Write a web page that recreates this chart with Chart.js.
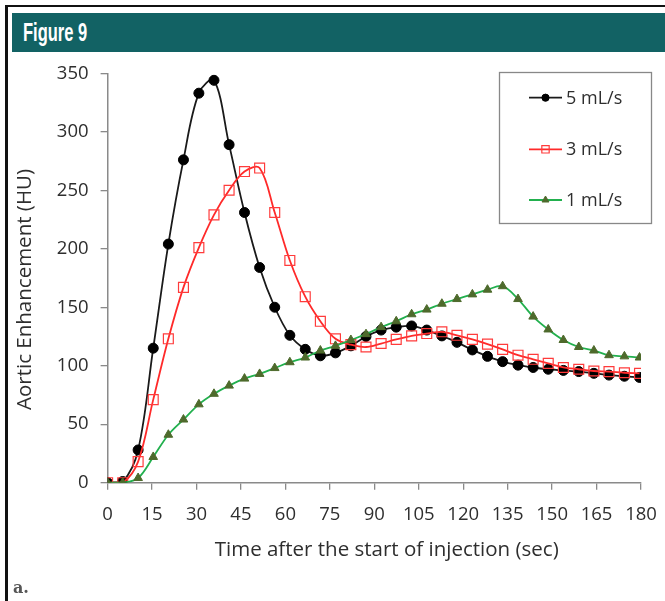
<!DOCTYPE html>
<html><head><meta charset="utf-8">
<script src="https://cdn.jsdelivr.net/npm/chart.js@4"></script>
<style>
html,body{margin:0;padding:0;background:#fff;}
#wrap{position:relative;width:665px;height:601px;overflow:hidden;background:#fff;}
#c{position:absolute;left:0;top:0;}
#topline{position:absolute;left:5px;top:5px;width:660px;height:2px;background:#111;}
#leftline{position:absolute;left:5px;top:5px;width:3px;height:596px;background:#111;}
#header{position:absolute;left:12px;top:13px;width:653px;height:39px;background:#126264;}
#header span{position:absolute;left:11px;top:6px;color:#fff;font:bold 25px "Liberation Sans",Arial,sans-serif;line-height:26px;transform:scaleX(0.66);transform-origin:0 0;white-space:nowrap;}
#lab{position:absolute;left:13px;top:578px;font:bold 16px "DejaVu Serif",serif;color:#555;}
</style></head>
<body>
<div id="wrap">
<canvas id="c" width="665" height="601"></canvas>
<div id="topline"></div><div id="leftline"></div>
<div id="header"><span>Figure 9</span></div>
<div id="lab">a.</div>
</div>
<script>
// time (s) of each sample
const times = [0, 5.1, 10.3, 15.4, 20.5, 25.6, 30.8, 35.9, 41.0, 46.2, 51.3, 56.4, 61.5, 66.7, 71.8, 76.9, 82.1, 87.2, 92.3, 97.4, 102.6, 107.7, 112.8, 117.9, 123.1, 128.2, 133.3, 138.5, 143.6, 148.7, 153.8, 159.0, 164.1, 169.2, 174.4, 179.5];
const rate5 = [0, 1, 28, 115, 204, 276, 333, 344, 289, 231, 184, 150, 126, 114, 108.5, 111, 117, 125, 130.5, 133, 134, 130.5, 125.5, 120, 113.5, 108, 103.5, 100.5, 98.5, 97, 96, 95, 93.5, 92, 91, 90];
const rate3 = [0, 0, 18, 71, 123, 167, 201, 229, 250, 266, 269, 231, 190, 159, 138, 123, 118, 116, 119, 122.5, 125.5, 127.5, 129, 126, 122.5, 118.5, 114, 109, 105.5, 102, 98.5, 97, 95.5, 95, 94, 93.5];
const rate1 = [0, 0, 4, 22, 41, 54, 67, 76, 83, 89, 93, 98, 103, 107, 113, 117, 122, 127, 133, 138, 144, 148, 153, 157, 161, 165, 168, 157, 142, 131, 122, 116, 113, 109, 108, 107];
const seriesLabels = ['5 mL/s', '3 mL/s', '1 mL/s'];
const xTicks = [0, 15, 30, 45, 60, 75, 90, 105, 120, 135, 150, 165, 180];
const yTicks = [0, 50, 100, 150, 200, 250, 300, 350];
const xTitle = 'Time after the start of injection (sec)';
const yTitle = 'Aortic Enhancement (HU)';

const FONT = '"Open Sans", sans-serif';
const TEXT = '#2e2e2e';
const toXY = arr => arr.map((v, i) => ({x: times[i], y: v}));

const styles = [
  {line:'#1a1a1a', point:'circle', fill:'#000', border:'#000', r:5, lr:3.6, bw:1},
  {line:'#ff2a2a', point:'rect', fill:'rgba(255,255,255,0)', border:'#ff3b3b', r:7, lr:5.2, bw:1.2},
  {line:'#22b04e', point:'triangle', fill:'#4e6a2c', border:'#4e6a2c', r:5, lr:4, bw:1}
];
const datasets = [rate5, rate3, rate1].map((d, i) => ({
  label: seriesLabels[i],
  data: toXY(d),
  borderColor: styles[i].line,
  borderWidth: 1.8,
  tension: 0.35,
  pointStyle: styles[i].point,
  pointRadius: styles[i].r,
  pointBackgroundColor: styles[i].fill,
  pointBorderColor: styles[i].border,
  pointBorderWidth: styles[i].bw,
  fill: false
}));
const order = [2, 1, 0];

function drawMarker(ctx, st, x, y, r) {
  ctx.save();
  ctx.fillStyle = st.fill; ctx.strokeStyle = st.border; ctx.lineWidth = st.bw;
  ctx.beginPath();
  if (st.point === 'circle') ctx.arc(x, y, r, 0, Math.PI * 2);
  else if (st.point === 'rect') { const s = r * Math.SQRT1_2; ctx.rect(x - s, y - s, 2 * s, 2 * s); }
  else { ctx.moveTo(x, y - r); ctx.lineTo(x + r * 0.866, y + r * 0.5); ctx.lineTo(x - r * 0.866, y + r * 0.5); ctx.closePath(); }
  ctx.fill(); ctx.stroke();
  ctx.restore();
}

const overlay = {
  id: 'overlay',
  afterDraw(chart) {
    const ctx = chart.ctx;
    ctx.save();
    ctx.fillStyle = TEXT;
    ctx.font = '20.5px ' + FONT;
    ctx.textAlign = 'center'; ctx.textBaseline = 'middle';
    ctx.fillText(xTitle, 386.7, 550);
    ctx.save();
    ctx.translate(25, 289.5); ctx.rotate(-Math.PI / 2);
    ctx.fillText(yTitle, 0, 0);
    ctx.restore();
    ctx.fillStyle = '#fff';
    ctx.fillRect(499.5, 72.5, 152, 151);
    ctx.strokeStyle = '#888'; ctx.lineWidth = 1.3;
    ctx.strokeRect(499.5, 72.5, 152, 151);
    const ys = [97.7, 149.3, 200];
    seriesLabels.forEach((lab, i) => {
      const st = styles[i];
      ctx.strokeStyle = st.line; ctx.lineWidth = 1.8;
      ctx.beginPath(); ctx.moveTo(529, ys[i]); ctx.lineTo(562, ys[i]); ctx.stroke();
      drawMarker(ctx, st, 545.5, ys[i], st.lr);
      ctx.fillStyle = TEXT; ctx.font = '18px ' + FONT;
      ctx.textAlign = 'left'; ctx.textBaseline = 'middle';
      ctx.fillText(lab, 566, ys[i] + 1);
    });
    ctx.restore();
  }
};

new Chart(document.getElementById('c'), {
  type: 'line',
  data: { datasets: order.map(i => datasets[i]) },
  options: {
    responsive: false,
    animation: false,
    events: [],
    layout: { padding: { left: 15, top: 73.3, right: 24, bottom: 0 } },
    plugins: { legend: { display: false }, tooltip: { enabled: false } },
    scales: {
      x: {
        type: 'linear', min: 0, max: 180,
        afterFit(s) { s.height = 118.3; s.paddingLeft = 0; s.paddingRight = 0; },
        afterBuildTicks(s) { s.ticks = xTicks.map(v => ({value: v})); },
        grid: { drawOnChartArea: false, drawTicks: true, tickLength: 7, color: '#8a8a8a', lineWidth: 1.3 },
        border: { display: true, color: '#8a8a8a', width: 1.5 },
        ticks: { color: TEXT, font: { family: FONT, size: 18.5 }, padding: 14, maxRotation: 0, autoSkip: false }
      },
      y: {
        min: 0, max: 350,
        afterFit(s) { s.width = 92.6; s.paddingTop = 0; s.paddingBottom = 0; },
        afterBuildTicks(s) { s.ticks = yTicks.map(v => ({value: v})); },
        grid: { drawOnChartArea: false, drawTicks: true, tickLength: 7, color: '#8a8a8a', lineWidth: 1.3 },
        border: { display: true, color: '#8a8a8a', width: 1.5 },
        ticks: { color: TEXT, font: { family: FONT, size: 18.5 }, padding: 12, autoSkip: false }
      }
    }
  },
  plugins: [overlay]
});
</script>
</body></html>
